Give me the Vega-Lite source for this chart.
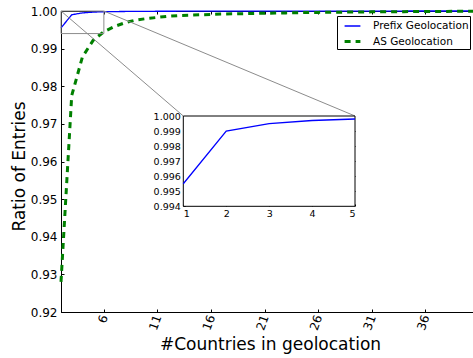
{
  "$schema": "https://vega.github.io/schema/vega-lite/v6.json",
  "width": 418,
  "height": 301,
  "autosize": "none",
  "padding": {"left": 61, "top": 11, "right": 0, "bottom": 47},
  "background": "white",
  "config": {
    "font": "DejaVu Sans",
    "view": {"stroke": "black", "strokeWidth": 1},
    "axis": {"grid": false, "domainColor": "black", "tickColor": "black", "labelColor": "black", "titleColor": "black", "titleFontWeight": "normal", "labelFont": "DejaVu Sans", "titleFont": "DejaVu Sans"},
    "legend": {"labelFont": "DejaVu Sans"}
  },
  "datasets": {
    "main": [
      {"n": 1, "ratio": 0.9955, "series": "Prefix Geolocation"},
      {"n": 2, "ratio": 0.9990, "series": "Prefix Geolocation"},
      {"n": 3, "ratio": 0.9995, "series": "Prefix Geolocation"},
      {"n": 4, "ratio": 0.9997, "series": "Prefix Geolocation"},
      {"n": 5, "ratio": 0.9998, "series": "Prefix Geolocation"},
      {"n": 6, "ratio": 0.99985, "series": "Prefix Geolocation"},
      {"n": 8, "ratio": 0.9999, "series": "Prefix Geolocation"},
      {"n": 10, "ratio": 0.99993, "series": "Prefix Geolocation"},
      {"n": 15, "ratio": 0.99996, "series": "Prefix Geolocation"},
      {"n": 20, "ratio": 0.99998, "series": "Prefix Geolocation"},
      {"n": 30, "ratio": 0.99999, "series": "Prefix Geolocation"},
      {"n": 40, "ratio": 1.0, "series": "Prefix Geolocation"},
      {"n": 1, "ratio": 0.928, "series": "AS Geolocation"},
      {"n": 2, "ratio": 0.9775, "series": "AS Geolocation"},
      {"n": 3, "ratio": 0.9878, "series": "AS Geolocation"},
      {"n": 4, "ratio": 0.9922, "series": "AS Geolocation"},
      {"n": 5, "ratio": 0.9945, "series": "AS Geolocation"},
      {"n": 6, "ratio": 0.9959, "series": "AS Geolocation"},
      {"n": 7, "ratio": 0.9969, "series": "AS Geolocation"},
      {"n": 8, "ratio": 0.9976, "series": "AS Geolocation"},
      {"n": 9, "ratio": 0.998, "series": "AS Geolocation"},
      {"n": 10, "ratio": 0.9983, "series": "AS Geolocation"},
      {"n": 11, "ratio": 0.9986, "series": "AS Geolocation"},
      {"n": 12, "ratio": 0.9988, "series": "AS Geolocation"},
      {"n": 13, "ratio": 0.9989, "series": "AS Geolocation"},
      {"n": 14, "ratio": 0.999, "series": "AS Geolocation"},
      {"n": 15, "ratio": 0.9991, "series": "AS Geolocation"},
      {"n": 16, "ratio": 0.9992, "series": "AS Geolocation"},
      {"n": 17, "ratio": 0.99925, "series": "AS Geolocation"},
      {"n": 18, "ratio": 0.9993, "series": "AS Geolocation"},
      {"n": 19, "ratio": 0.99935, "series": "AS Geolocation"},
      {"n": 20, "ratio": 0.9994, "series": "AS Geolocation"},
      {"n": 21, "ratio": 0.99945, "series": "AS Geolocation"},
      {"n": 22, "ratio": 0.9995, "series": "AS Geolocation"},
      {"n": 23, "ratio": 0.99955, "series": "AS Geolocation"},
      {"n": 24, "ratio": 0.9996, "series": "AS Geolocation"},
      {"n": 25, "ratio": 0.99963, "series": "AS Geolocation"},
      {"n": 26, "ratio": 0.99966, "series": "AS Geolocation"},
      {"n": 27, "ratio": 0.99969, "series": "AS Geolocation"},
      {"n": 28, "ratio": 0.99972, "series": "AS Geolocation"},
      {"n": 29, "ratio": 0.99975, "series": "AS Geolocation"},
      {"n": 30, "ratio": 0.99977, "series": "AS Geolocation"},
      {"n": 31, "ratio": 0.99979, "series": "AS Geolocation"},
      {"n": 32, "ratio": 0.99981, "series": "AS Geolocation"},
      {"n": 33, "ratio": 0.99983, "series": "AS Geolocation"},
      {"n": 34, "ratio": 0.99985, "series": "AS Geolocation"},
      {"n": 35, "ratio": 0.99987, "series": "AS Geolocation"},
      {"n": 36, "ratio": 0.99989, "series": "AS Geolocation"},
      {"n": 37, "ratio": 0.9999, "series": "AS Geolocation"},
      {"n": 38, "ratio": 0.99991, "series": "AS Geolocation"},
      {"n": 39, "ratio": 0.99992, "series": "AS Geolocation"},
      {"n": 40, "ratio": 0.99993, "series": "AS Geolocation"}
    ],
    "inset": [
      {"n": 1, "ratio": 0.9955},
      {"n": 2, "ratio": 0.9990},
      {"n": 3, "ratio": 0.9995},
      {"n": 4, "ratio": 0.9997},
      {"n": 5, "ratio": 0.9998}
    ],
    "zoombox": [{"x1": 1, "x2": 5, "y1": 0.994, "y2": 1.0}],
    "connectors": [
      {"x1": 1, "y1": 1.0, "x2": 12.41, "y2": 0.9721},
      {"x1": 5, "y1": 1.0, "x2": 28.43, "y2": 0.9721}
    ]
  },
  "layer": [
    {
      "data": {"name": "main"},
      "mark": {"type": "line"},
      "encoding": {
        "x": {"field": "n", "type": "quantitative",
          "scale": {"domain": [1, 40], "nice": false, "zero": false},
          "axis": {"orient": "bottom", "values": [5, 10, 15, 20, 25, 30, 35], "labelExpr": "datum.value + 1",
            "labelAngle": -70, "labelAlign": "right", "labelBaseline": "middle", "labelFontSize": 12,
            "tickSize": -3, "labelPadding": 6, "title": "#Countries in geolocation", "titleFontSize": 17,
            "titleY": 37, "titleBaseline": "alphabetic"}},
        "y": {"field": "ratio", "type": "quantitative",
          "scale": {"domain": [0.92, 1.0], "nice": false, "zero": false},
          "axis": {"orient": "left", "values": [0.92, 0.93, 0.94, 0.95, 0.96, 0.97, 0.98, 0.99, 1.0], "format": ".2f",
            "labelFontSize": 12, "tickSize": -3, "labelPadding": 7, "title": "Ratio of Entries", "titleFontSize": 17,
            "titleX": -37, "titleY": 155, "titleBaseline": "alphabetic", "titleAlign": "center"}},
        "color": {"field": "series", "type": "nominal",
          "scale": {"domain": ["Prefix Geolocation", "AS Geolocation"], "range": ["#0000ff", "#008000"]},
          "legend": {"title": null, "orient": "none", "legendX": 276, "legendY": 5, "fillColor": "white", "strokeColor": "black",
            "padding": 1, "symbolOffset": 5, "symbolType": "stroke", "symbolSize": 250, "labelFontSize": 10.5, "labelOffset": 11, "rowPadding": 0, "cornerRadius": 0}},
        "strokeDash": {"field": "series", "type": "nominal",
          "scale": {"domain": ["Prefix Geolocation", "AS Geolocation"], "range": [[1, 0], [6, 5]]},
          "legend": {"title": null, "orient": "none", "legendX": 276, "legendY": 5, "fillColor": "white", "strokeColor": "black",
            "padding": 1, "symbolOffset": 5, "symbolType": "stroke", "symbolSize": 250, "labelFontSize": 10.5, "labelOffset": 11, "rowPadding": 0, "cornerRadius": 0}},
        "strokeWidth": {"field": "series", "type": "nominal",
          "scale": {"domain": ["Prefix Geolocation", "AS Geolocation"], "range": [1.3, 3]},
          "legend": {"title": null, "orient": "none", "legendX": 276, "legendY": 5, "fillColor": "white", "strokeColor": "black",
            "padding": 1, "symbolOffset": 5, "symbolType": "stroke", "symbolSize": 250, "labelFontSize": 10.5, "labelOffset": 11, "rowPadding": 0, "cornerRadius": 0}}
      }
    },
    {
      "data": {"name": "zoombox"},
      "mark": {"type": "rect", "fill": "transparent", "stroke": "#8c8c8c", "strokeWidth": 1},
      "encoding": {
        "x": {"field": "x1", "type": "quantitative", "scale": {"domain": [1, 40], "nice": false, "zero": false},
          "axis": {"orient": "top", "values": [5, 10, 15, 20, 25, 30, 35], "labels": false, "domain": false, "tickSize": -3, "title": null}},
        "x2": {"field": "x2"},
        "y": {"field": "y1", "type": "quantitative", "scale": {"domain": [0.92, 1.0], "nice": false, "zero": false}, "axis": null},
        "y2": {"field": "y2"}
      }
    },
    {
      "data": {"name": "connectors"},
      "mark": {"type": "rule", "stroke": "#8c8c8c", "strokeWidth": 1},
      "encoding": {
        "x": {"field": "x1", "type": "quantitative", "scale": {"domain": [1, 40], "nice": false, "zero": false}, "axis": null},
        "x2": {"field": "x2"},
        "y": {"field": "y1", "type": "quantitative", "scale": {"domain": [0.92, 1.0], "nice": false, "zero": false}, "axis": null},
        "y2": {"field": "y2"}
      }
    },
    {
      "data": {"name": "zoombox"},
      "mark": {"type": "rect", "fill": "white", "stroke": "black", "strokeWidth": 1},
      "encoding": {
        "x": {"field": "x1", "type": "quantitative", "scale": {"domain": [1, 5], "range": [122.3, 294], "nice": false, "zero": false},
          "axis": {"orient": "bottom", "offset": -106, "values": [1, 2, 3, 4, 5], "format": "d", "labelFontSize": 9.5, "tickSize": -2, "labelPadding": 4, "domain": false, "title": null}},
        "x2": {"field": "x2"},
        "y": {"field": "y1", "type": "quantitative", "scale": {"domain": [0.994, 1.0], "range": [195.3, 105], "nice": false, "zero": false},
          "axis": {"orient": "left", "offset": -122.3, "values": [0.994, 0.995, 0.996, 0.997, 0.998, 0.999, 1.0], "format": ".3f", "labelFontSize": 9.5, "tickSize": -2, "labelPadding": 5, "domain": false, "title": null}},
        "y2": {"field": "y2"}
      }
    },
    {
      "data": {"name": "inset"},
      "mark": {"type": "line", "color": "#0000ff", "strokeWidth": 1.3},
      "encoding": {
        "x": {"field": "n", "type": "quantitative", "scale": {"domain": [1, 5], "range": [122.3, 294], "nice": false, "zero": false},
          "axis": {"orient": "top", "offset": -105, "values": [2, 3, 4], "labels": false, "domain": false, "tickSize": -2, "title": null}},
        "y": {"field": "ratio", "type": "quantitative", "scale": {"domain": [0.994, 1.0], "range": [195.3, 105], "nice": false, "zero": false},
          "axis": {"orient": "right", "offset": -124, "values": [0.995, 0.996, 0.997, 0.998, 0.999], "labels": false, "domain": false, "tickSize": -2, "title": null}}
      }
    }
  ],
  "resolve": {
    "scale": {"x": "independent", "y": "independent", "color": "independent", "strokeDash": "independent", "strokeWidth": "independent"},
    "axis": {"x": "independent", "y": "independent"}
  }
}
